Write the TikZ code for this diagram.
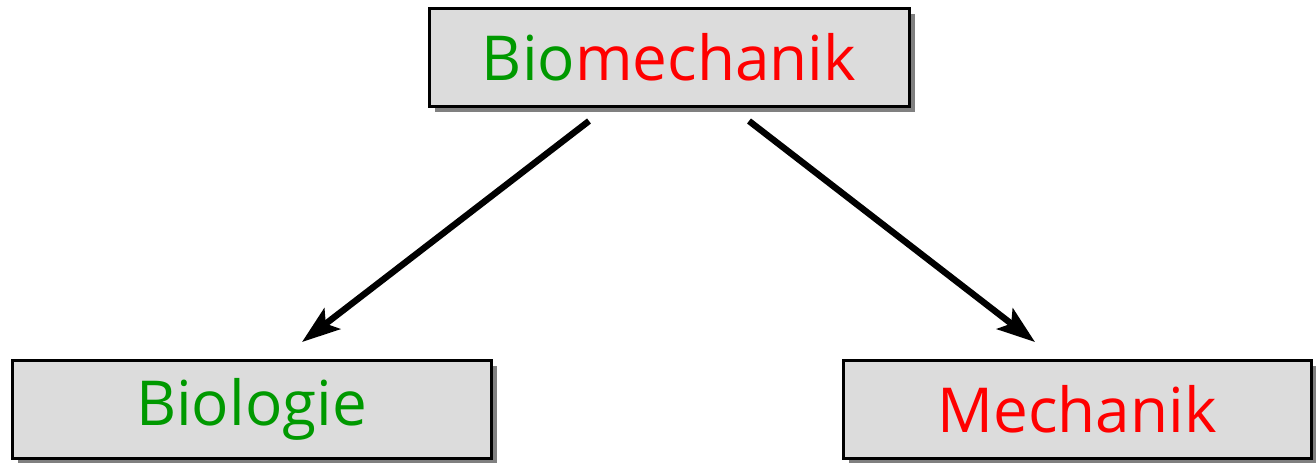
\documentclass[tikz,border=0pt]{standalone}
\usepackage{fontspec}
\setmainfont{Open Sans}
\usetikzlibrary{arrows.meta}
\definecolor{boxgray}{HTML}{DCDCDC}
\definecolor{shadowgray}{HTML}{808080}
\definecolor{biogreen}{HTML}{009900}
\definecolor{mechred}{HTML}{FF0000}
\tikzset{
  fieldbox/.style={draw=black, line width=1.5pt, fill=boxgray,
    minimum width=240pt, minimum height=49pt, inner sep=0pt,
    font=\fontsize{31}{34}\selectfont},
  boxshadow/.style={fill=shadowgray},
  link/.style={line width=3.2pt, -{Stealth[length=19pt, width=13pt, inset=4pt]}}
}
\begin{document}
\begin{tikzpicture}[x=0.5pt, y=-0.5pt]
  \useasboundingbox (0,0) rectangle (1316,463);
  % drop shadows
  \fill[boxshadow] (435,14) rectangle (915,112);
  \fill[boxshadow] (18,366) rectangle (497,463);
  \fill[boxshadow] (849,366) rectangle (1316,463);
  % boxes
  \node[fieldbox] (top) at (669,57)
    {\textcolor{biogreen}{Bio}\textcolor{mechred}{mechanik}};
  \node[fieldbox, minimum width=239.5pt] (bio) at (251.5,409)
    {\textcolor{biogreen}{Biologie}};
  \node[fieldbox, minimum width=234pt] (mech) at (1077,409)
    {\textcolor{mechred}{Mechanik}};
  % arrow ends
  \coordinate (s1) at (589,121);
  \coordinate (e1) at (302,342);
  \coordinate (s2) at (749,121);
  \coordinate (e2) at (1035,342);
  \draw[link] (s1) -- (e1);
  \draw[link] (s2) -- (e2);
\end{tikzpicture}
\end{document}
